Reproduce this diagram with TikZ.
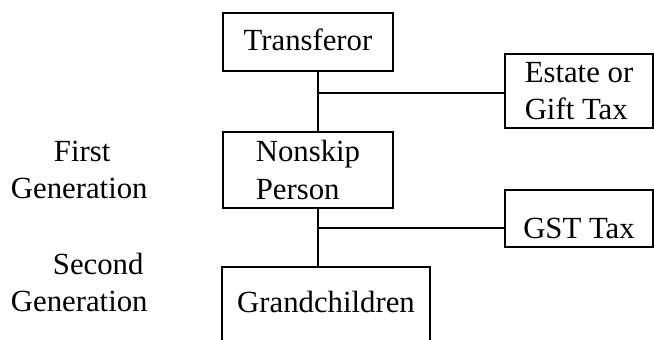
\documentclass[tikz,border=0pt]{standalone}
\usepackage{fontspec}
\setmainfont{Liberation Serif}
\usepackage{tikz}
\usetikzlibrary{positioning, calc}

\begin{document}
\begin{tikzpicture}[scale=0.2, line width=1.1pt,
    gbox/.style={draw, black, align=left, inner sep=0pt},
    glabel/.style={align=left, inner sep=0pt, anchor=west}]
    \tikzstyle{every node}+=[font=\fontsize{17.5}{21.5}\selectfont]
    \useasboundingbox (0,0) rectangle (65.4,-33.9);
    \clip (0,0) rectangle (65.4,-33.9);
    \node [gbox, minimum width=3.4cm, minimum height=1.16cm, text height=0.32cm, text depth=0pt] (trans) at (30.8,-4.2) {Transferor};
    \node [gbox, minimum width=2.96cm, minimum height=1.48cm] (estate) at (57.9,-9.1) {Estate or\\Gift Tax};
    \node [gbox, minimum width=3.4cm, minimum height=1.52cm] (nonskip) at (30.8,-17.0) {Nonskip\\Person};
    \node [gbox, minimum width=2.96cm, minimum height=1.14cm, text height=0.8cm, text depth=0pt] (gst) at (57.9,-21.85) {GST Tax};
    \node [gbox, anchor=north, minimum width=4.16cm, text height=0.92cm, text depth=0.6cm] (grand) at (32.6,-26.6) {Grandchildren};
    \node [glabel] (gen1) at (1.0,-17.0) {\hspace*{0.86cm}First\\Generation};
    \node [glabel] (gen2) at (1.0,-28.25) {\hspace*{0.84cm}Second\\Generation};
    \coordinate (j1) at (31.8,-9.3);
    \coordinate (j2) at (31.8,-22.8);
    \draw (trans.south -| j1) -- (nonskip.north -| j1);
    \draw (j1) -- (j1 -| estate.west);
    \draw (nonskip.south -| j2) -- (grand.north -| j2);
    \draw (j2) -- (j2 -| gst.west);
\end{tikzpicture}
\end{document}
